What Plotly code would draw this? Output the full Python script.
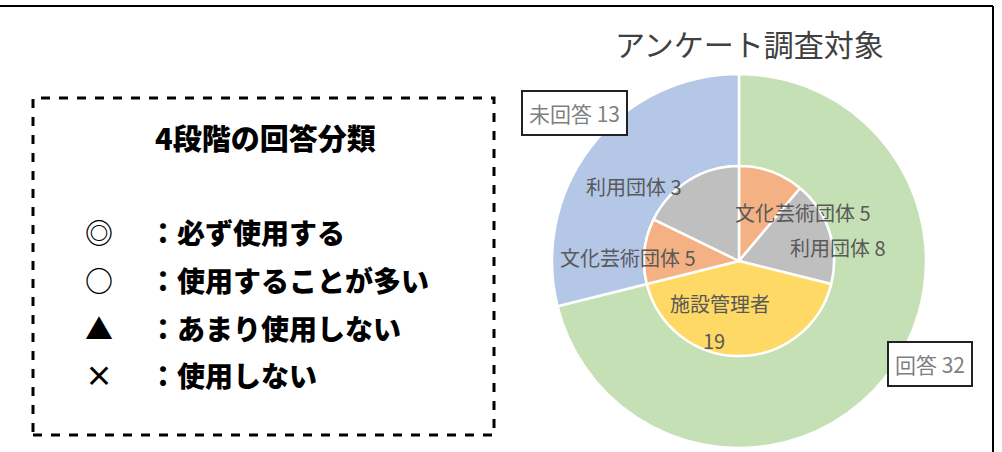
import plotly.graph_objects as go

# outer ring: answered / not answered
outer_labels = ["回答", "未回答"]
outer_values = [32, 13]
outer_colors = ["#C5E0B4", "#B4C7E7"]

# inner pie: breakdown by group
inner_labels = ["文化芸術団体", "利用団体", "施設管理者", "文化芸術団体", "利用団体"]
inner_values = [5, 8, 19, 5, 8]
inner_colors = ["#F4B183", "#BFBFBF", "#FFD966", "#F4B183", "#BFBFBF"]
inner_text = ["文化芸術団体 5", "利用団体 8", "施設管理者|19", "文化芸術団体 5", "利用団体 3"]

chart_title = "アンケート調査対象"
legend_title = "4段階の回答分類"
legend_symbols = ["◎", "○", "▲", "×"]
legend_texts = ["：必ず使用する", "：使用することが多い", "：あまり使用しない", "：使用しない"]

W, H = 1002, 452
FONT = "Noto Sans CJK JP"


def px(x):
    return x / W


def py(y):
    return 1 - y / H


# pie geometry in pixels
cx, cy = 739, 261
r_out, r_in = 187, 95

fig = go.Figure()

fig.add_trace(go.Pie(
    labels=outer_labels, values=outer_values,
    marker=dict(colors=outer_colors, line=dict(color="white", width=2.5)),
    hole=r_in / r_out, sort=False, direction="clockwise", rotation=0,
    textinfo="none", hoverinfo="label+value", showlegend=False,
    domain=dict(x=[px(cx - r_out), px(cx + r_out)], y=[py(cy + r_out), py(cy - r_out)]),
))

fig.add_trace(go.Pie(
    labels=[f"{l} {i}" for i, l in enumerate(inner_labels)], values=inner_values,
    marker=dict(colors=inner_colors, line=dict(color="white", width=2.5)),
    sort=False, direction="clockwise", rotation=0,
    textinfo="none", hoverinfo="value", showlegend=False,
    domain=dict(x=[px(cx - r_in), px(cx + r_in)], y=[py(cy + r_in), py(cy - r_in)]),
))

annotations = []


def note(x, y, text, **kw):
    d = dict(x=px(x), y=py(y), text=text, showarrow=False,
             xref="paper", yref="paper", xanchor="center", yanchor="middle")
    d.update(kw)
    annotations.append(d)


# chart title
note(749, 43, chart_title, font=dict(family=FONT, size=30, color="#404040"))

# inner labels (positions as placed in the original); "|" splits a label over two spaced lines
inner_pos = [(803, 212), (838, 247), (720, 303), (628, 257), (634, 187)]
for (x, y), t in zip(inner_pos, inner_text):
    for k, part in enumerate(t.split("|")):
        note(x - 6 * k, y + 37 * k, part, font=dict(family=FONT, size=20, color="#595959"))

# outer labels in boxes
outer_pos = {"未回答": (574, 113), "回答": (930, 364)}
for lab, val in zip(outer_labels, outer_values):
    x, y = outer_pos[lab]
    note(x, y, f"{lab} {val}", font=dict(family=FONT, size=21, color="#7F7F7F"),
         bgcolor="white", bordercolor="#222222", borderwidth=2, borderpad=6)

# left box: classification
note(265, 137, legend_title, font=dict(family=FONT, size=29, color="black", weight=900))
rows_y = [232, 280, 328, 375]
for y, s, t in zip(rows_y, legend_symbols, legend_texts):
    note(99, y, s, font=dict(family=FONT, size=28, color="black", weight="bold"))
    note(147, y, t, xanchor="left", font=dict(family=FONT, size=28, color="black", weight=900))

shapes = [
    dict(type="rect", xref="paper", yref="paper", x0=px(33), x1=px(494), y0=py(435), y1=py(98),
         line=dict(color="black", width=3, dash="dash")),
    dict(type="line", xref="paper", yref="paper", x0=0, x1=px(993), y0=py(6), y1=py(6),
         line=dict(color="black", width=2)),
    dict(type="line", xref="paper", yref="paper", x0=px(993), x1=px(993), y0=py(6), y1=0,
         line=dict(color="black", width=2)),
]

fig.update_layout(
    width=W, height=H,
    margin=dict(l=0, r=0, t=0, b=0),
    paper_bgcolor="white", plot_bgcolor="white",
    annotations=annotations, shapes=shapes,
    font=dict(family=FONT),
)

fig.write_html("out.html", config={"displayModeBar": False},
               post_script="document.body.style.margin='0';document.body.style.overflow='hidden';")
